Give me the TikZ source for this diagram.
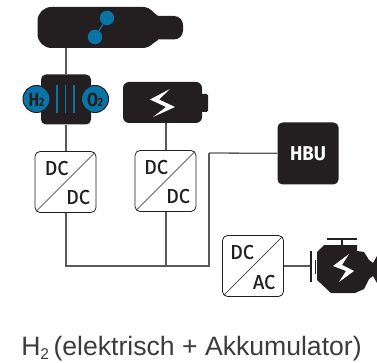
\documentclass[tikz,border=0pt]{standalone}
\usepackage{fontspec}
\setmainfont{Liberation Sans}
\newfontfamily\condfont{Fira Sans}[FakeStretch=0.93]
\newfontfamily\gasfont{Fira Sans}[FakeStretch=0.84]
\newfontfamily\condmed{Fira Sans}[FakeStretch=0.98,FakeBold=0.4]
\definecolor{ink}{HTML}{231F20}
\definecolor{wire}{HTML}{58595B}
\definecolor{sea}{HTML}{0A74A6}
\definecolor{cap}{HTML}{3C3C3C}
\tikzset{
 x=1pt,y=-1pt,
 wire/.style={draw=wire,line width=1.3pt},
 conv/.style={draw=ink,line width=0.8pt,rounded corners=5pt,fill=white},
 blackfill/.style={fill=ink,draw=none},
 seadot/.style={circle,fill=sea,draw=ink,line width=1pt,minimum size=27pt,inner sep=0pt},
 convtext/.style={text=ink,inner sep=0pt,font=\condmed\fontsize{20}{20}\selectfont},
 gas/.style={text=ink,inner sep=0pt,font=\gasfont\fontsize{19}{19}\selectfont\bfseries},
}
\begin{document}
\begin{tikzpicture}
\useasboundingbox (0,0) rectangle (377,363);
% coordinates
\coordinate (c1) at (66,151);
\coordinate (c2) at (166,150);
\coordinate (busL) at (66,266);
\coordinate (busM) at (166,266);
\coordinate (busR) at (209,266);
\coordinate (hbuT) at (209,153);
% tank
\node[blackfill,rounded corners=14pt,minimum width=119pt,minimum height=41pt,inner sep=0pt] (tank) at (97,27.5) {};
\fill[ink,rounded corners=9pt] (140,16) rectangle (183,39.5);
\fill[ink] (148,8) -- (158,16) -- (158,40) -- (148,47) -- cycle;
\node[circle,fill=sea,minimum size=14.5pt,inner sep=0pt] (m1) at (107,18) {};
\node[circle,fill=sea,minimum size=14.5pt,inner sep=0pt] (m2) at (95,37) {};
\draw[sea,line width=1.3pt] (m1) -- (m2);
% electrolyser
\node[blackfill,rounded corners=5pt,minimum width=50pt,minimum height=50pt,inner sep=0pt] (elec) at (66,99.5) {};
\node[seadot] (h2) at (36.5,99) {};
\node[seadot] (o2) at (95,99) {};
\node[gas] at (36.5,99.5) {H\kern-0.3pt{\fontsize{12}{12}\selectfont 2}};
\node[gas] at (95,99.5) {O\kern-0.3pt{\fontsize{12}{12}\selectfont 2}};
\foreach \x in {57,65.7,74} \draw[sea,line width=1.3pt] (\x,85) -- (\x,113.5);
% battery
\node[blackfill,rounded corners=6pt,minimum width=79pt,minimum height=41pt,inner sep=0pt] (batt) at (162.5,102.5) {};
\fill[ink,rounded corners=1.5pt] (198,94) rectangle (208,112);
\fill[white] (170,89) -- (150,99.5) -- (166,107) -- (153,117) -- (175,107) -- (159,99.5) -- cycle;
% converters
\draw[wire] (tank.south -| c1) -- (elec.north -| c1);
\draw[wire] (elec.south -| c1) -- (c1);
\draw[wire] (batt.south -| c2) -- (c2);
\draw[wire] (c1) -- (busL) -- (busR) -- (hbuT);
\draw[wire] (c2) -- (busM);
\node[conv,minimum width=61pt,minimum height=61pt,inner sep=0pt] (dc1) at (65.5,182) {};
\node[conv,minimum width=61pt,minimum height=61pt,inner sep=0pt] (dc2) at (165.5,181) {};
\node[conv,minimum width=61pt,minimum height=61pt,inner sep=0pt] (dcac) at (253,266) {};
\foreach \n in {dc1,dc2,dcac}
 \draw[ink,line width=0.7pt] ([shift={(2,-2)}]\n.south west) -- ([shift={(-2,2)}]\n.north east);
\node[convtext] at (56.5,168) {DC};
\node[convtext] at (78,197) {DC};
\node[convtext] at (156,167) {DC};
\node[convtext] at (178,196) {DC};
\node[convtext] at (242,252) {DC};
\node[convtext] at (264,282) {AC};
% HBU
\node[blackfill,rounded corners=5pt,minimum width=61pt,minimum height=62pt,inner sep=0pt,text=white,font=\condfont\fontsize{20}{20}\selectfont\bfseries] (hbu) at (308,153.5) {HBU};
\draw[wire] (hbuT) -- (hbu);
% engine
\coordinate (shaft) at (312,266);
\draw[wire] (dcac) -- (shaft);
\draw[ink,line width=1.6pt] (311,251) -- (311,282);
\draw[ink,line width=1.6pt] (315.5,260) -- (315.5,274);
\draw[ink,line width=1.6pt] (327,239) -- (357,239);
\draw[ink,line width=2pt] (342,239) -- (342,246);
\fill[ink] (317,252) -- (324,245) -- (357,245) -- (357,251) -- (364,252) -- (369,260) -- (373,263) -- (377,256) -- (377,283) -- (373,276) -- (369,279) -- (364,289) -- (355,293) -- (331,293) -- (317,280) -- cycle;
\fill[white] (349,254) -- (333,266) -- (346,271) -- (339,282) -- (354,271) -- (342,265) -- cycle;
% caption
\node[text=cap,inner sep=0pt,anchor=base,font=\fontsize{26.6}{26.6}\selectfont] (caption) at (191.5,355) {H\raisebox{-4.5pt}{\fontsize{15.5}{15.5}\selectfont 2}\,(elektrisch + Akkumulator)};
\end{tikzpicture}
\end{document}
